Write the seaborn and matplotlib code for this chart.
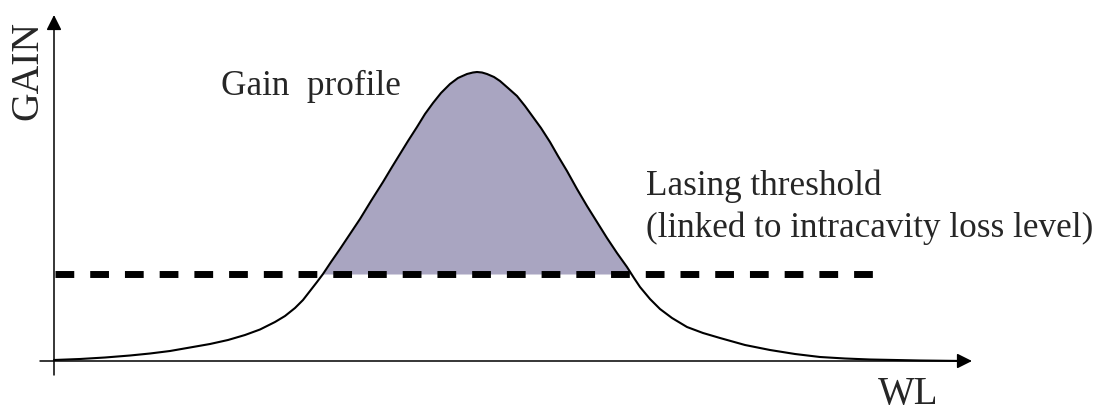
"""Gain profile vs lasing threshold (schematic)."""

import numpy as np
import matplotlib
matplotlib.use("Agg")
import matplotlib.pyplot as plt
import seaborn as sns

# curve (arbitrary units, origin at the axes corner)
WL = [0, 26, 51, 76, 96, 116, 136, 156, 174, 191,
      206, 221, 231, 241, 249, 256, 263, 269, 277, 286,
      296, 306, 317, 329, 338, 346, 354, 363, 371, 379,
      387, 396, 404, 413, 419, 423, 428, 433, 440, 446,
      454, 463, 471, 479, 487, 496, 504, 513, 523, 533,
      543, 553, 563, 573, 580, 586, 596, 606, 618, 633,
      649, 666, 691, 716, 741, 766, 791, 816, 866, 911]
GAIN = [1, 2, 3.5, 5.5, 7.5, 10, 13.5, 17, 21, 26,
        31.5, 39, 45, 53, 61, 70, 79, 87, 99, 112,
        127, 142, 160, 179, 194, 207, 220, 234, 247, 258,
        268, 277, 283, 287, 288.5, 289, 288.5, 287, 284, 280,
        273, 265, 255, 244, 233, 219, 205, 190, 172, 155,
        139, 123, 108, 94, 83, 74, 62, 52, 43, 34,
        28, 23, 16, 11, 7, 4, 2.5, 1.5, 0.5, 0]
THRESHOLD = 87
THRESH_END = 819

FILL = "#A9A5C1"

sns.set_theme(style="white")
plt.rcParams["font.family"] = ["Liberation Serif", "DejaVu Serif"]

fig = plt.figure(figsize=(10.99, 4.12), dpi=100)
ax = fig.add_axes([0, 0, 1, 1])
ax.set_xlim(-54, 1045)
ax.set_ylim(-51, 361)
ax.axis("off")

wl = np.array(WL)
gain = np.array(GAIN)

# shaded region above threshold
ax.fill_between(wl, gain, THRESHOLD, where=gain >= THRESHOLD, interpolate=True,
                color=FILL, lw=0, zorder=1)

sns.lineplot(x=wl, y=gain, ax=ax, color="black", lw=1.5, sort=False, zorder=3)

ax.plot([1, THRESH_END], [THRESHOLD, THRESHOLD], color="black", lw=5,
        linestyle=(0, (2.7, 2.3)), dash_capstyle="butt", zorder=2)

# axes with arrows
arrow = dict(arrowstyle="-|>,head_length=0.7,head_width=0.35", color="black",
             lw=1.1, shrinkA=0, shrinkB=0, mutation_scale=13)
ax.annotate("", xy=(0, 346), xytext=(0, -14), arrowprops=arrow, zorder=4)
ax.annotate("", xy=(918, 0), xytext=(-14, 0), arrowprops=arrow, zorder=4)

ax.text(-26, 291, "GAIN", rotation=90, fontsize=28.5, ha="center", va="center")
ax.text(824, -43, "WL", fontsize=28, ha="left", va="baseline")
ax.text(167, 266, "Gain  profile", fontsize=25.3, ha="left", va="baseline")
ax.text(592, 166, "Lasing threshold", fontsize=25.3, ha="left", va="baseline")
ax.text(592, 124, "(linked to intracavity loss level)", fontsize=25.3,
        ha="left", va="baseline")

fig.savefig("out.png", dpi=100)
